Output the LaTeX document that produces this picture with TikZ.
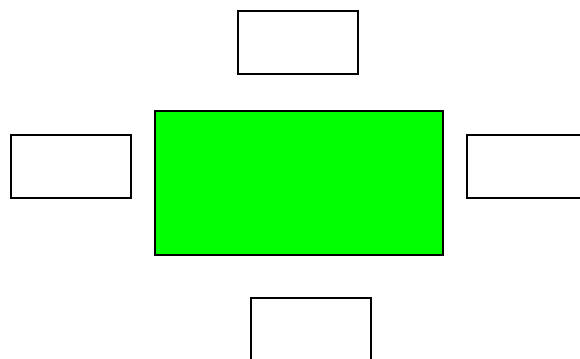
\documentclass[tikz,border=0pt]{standalone}
\tikzset{every picture/.style={line width=1.5pt}}
\tikzset{
  sidebox/.style={draw=black, fill=white, inner sep=0pt, minimum width=90pt, minimum height=47.25pt},
  mainbox/.style={draw=black, fill={rgb,255:red,0;green,255;blue,0}, inner sep=0pt, minimum width=216pt, minimum height=108pt}
}
\begin{document}
\begin{tikzpicture}[x=0.75pt,y=0.75pt,yscale=-1,xscale=1]
%set diagram frame 580 x 358
\clip (0,0) rectangle (580,358);

%Shape: Rectangle (green)
\node [mainbox] (centre) at (299,183) {};
%Shape: Rectangle (top)
\node [sidebox] (top) at (298,42.5) {};
%Shape: Rectangle (left)
\node [sidebox] (left) at (71,166.5) {};
%Shape: Rectangle (right)
\node [sidebox] (right) at (527,166.5) {};
%Shape: Rectangle (bottom)
\node [sidebox] (bottom) at (311,329.5) {};

\end{tikzpicture}
\end{document}
